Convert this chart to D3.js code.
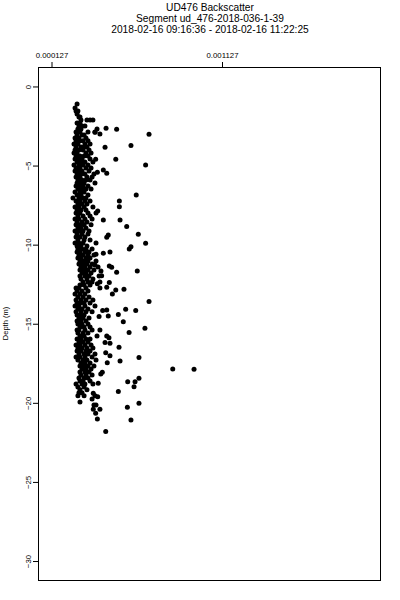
<!DOCTYPE html>
<html>
<head>
<meta charset="utf-8">
<script src="https://cdn.jsdelivr.net/npm/d3@7"></script>
<style>
  html, body { margin: 0; padding: 0; background: #fff; }
  svg { display: block; font-family: "Liberation Sans", Arial, sans-serif; }
</style>
</head>
<body>
<svg id="chart" width="400" height="600"></svg>
<script>
// ---- text ----
const titleLines = ["UD476 Backscatter", "Segment ud_476-2018-036-1-39", "2018-02-16 09:16:36 - 2018-02-16 11:22:25"];
const yAxisTitle = "Depth (m)";

// ---- axis ticks ----
const depthTicks = [0, -5, -10, -15, -20, -25, -30];
const backscatterTicks = [0.000127, 0.001127];
const backscatterTickLabels = ["0.000127", "0.001127"];

// ---- data (backscatter values in units of 1e-6) ----
const BS_UNIT = 1e-6;
// dense band of samples: one depth per row, several backscatter values per row
const clusterDepth = [
  -1.11,-1.36,-1.55,-1.74,-1.93,-2.12,-2.31,-2.50,-2.69,-2.88,
  -3.07,-3.26,-3.44,-3.63,-3.82,-4.01,-4.20,-4.39,-4.58,-4.77,
  -4.96,-5.15,-5.34,-5.53,-5.72,-5.91,-6.10,-6.29,-6.48,-6.67,
  -6.86,-7.05,-7.24,-7.43,-7.62,-7.81,-8.00,-8.19,-8.38,-8.57,
  -8.75,-8.94,-9.13,-9.32,-9.51,-9.70,-9.89,-10.08,-10.27,-10.46,
  -10.65,-10.84,-11.03,-11.22,-11.41,-11.60,-11.79,-11.98,-12.17,-12.36,
  -12.55,-12.74,-12.93,-13.12,-13.31,-13.50,-13.69,-13.88,-14.07,-14.25,
  -14.44,-14.63,-14.82,-15.01,-15.20,-15.39,-15.58,-15.77,-15.96,-16.15,
  -16.34,-16.53,-16.72,-16.91,-17.10,-17.29,-17.48,-17.67,-17.86,-18.05,
  -18.24,-18.43,-18.62,-18.81,-19.00,-19.18,-19.37,-19.56,-19.75,-19.94,
  -20.13
];
const clusterBackscatter = [
  [277],[265],[271,282],[277],[288,294],[300,335,353,370],[277,294],[288,306,323],[282,300,394],[271,294,341,382],
  [277,306,318],[265,288,329],[271,294,312,341],[259,282,323,353],[271,300,318,335],[265,288,312,347],[259,277,329,359],[271,294,318,341],[265,282,306,353],[277,300,323,370],
  [259,288,312,341],[271,294,329,359],[265,282,306,347],[277,300,323,376],[271,294,335,365],[282,306,329,353],[277,294,318,382],[271,288,312,341],[282,306,329,359],[265,294,318],
  [277,300,341],[253,288,312,329],[271,294,323,353],[282,306,335],[265,288,318,370],[277,300,329],[271,294,341,388],[282,312,353],[265,288,323,365],[277,306,335],
  [271,294,318,359],[282,300,329],[265,288,312,347],[277,306,341],[271,294,323],[282,318,353],[265,288,312,388],[277,300,335],[282,306,329,365],[277,294,323,347],
  [288,312,341,376],[282,300,329,353],[294,318,341,388],[288,312,335,365],[300,323,353,400],[294,318,341,376],[306,329,359],[294,323,347,406],[300,335,370],[312,341,365,411],
  [294,318,353],[271,288,329,411],[277,306,341],[265,294,323],[282,312,347],[271,300,329,370],[277,294,318,353],[265,288,323,382],[282,306,341],[271,300,329,365],
  [277,294,318],[288,312,347],[277,300,329],[282,306,341],[294,318,353],[277,288,323,365],[282,312,341],[294,318,394],[277,300,329,353],[288,312,341],
  [271,294,323,359],[282,306,335,370],[277,300,329,353],[288,318,341,382],[271,294,323,365],[282,312,335,388],[300,323,353],[294,318,341,376],[306,329,359],[294,323,347],
  [300,329,365],[288,318,341],[294,312,353],[271,306,323,370],[282,318],[294,335],[288,306],[282,318,382],[365],[294],
  [376,388]
];
// scattered samples
const scatterDepth = [
  -2.64,-2.71,-3.02,-3.00,-2.90,-3.84,-3.74,-4.60,-4.60,-4.96,
  -5.28,-5.49,-5.42,-6.86,-7.24,-7.60,-7.87,-8.44,-8.44,-8.86,
  -9.39,-9.53,-9.34,-9.91,-10.13,-10.27,-10.54,-10.46,-10.61,-11.28,
  -11.35,-11.43,-11.66,-11.96,-11.74,-11.66,-12.48,-12.40,-12.69,-12.86,
  -12.82,-13.12,-13.60,-14.08,-14.17,-14.13,-14.17,-14.51,-14.42,-14.87,
  -14.55,-15.28,-15.56,-15.39,-15.77,-15.88,-16.19,-16.23,-16.49,-16.83,
  -17.02,-17.14,-17.35,-17.46,-17.86,-17.88,-18.07,-18.17,-18.66,-18.66,
  -18.98,-18.44,-18.76,-19.29,-19.39,-19.61,-20.03,-20.28,-20.40,-20.40,
  -20.66,-21.02,-21.08,-21.82
];
const scatterBackscatter = [
  447,509,699,411,382,441,593,386,504,679,
  431,451,396,624,525,525,398,431,529,568,
  460,451,636,679,593,583,431,470,388,382,
  466,480,417,421,509,630,396,466,451,504,
  552,484,699,562,621,451,427,460,519,548,
  406,675,582,411,451,464,441,470,523,445,
  470,640,529,454,838,963,425,416,574,617,
  611,640,401,519,372,398,640,572,372,411,
  386,396,593,445
];

// ---- build points ----
const points = [];
clusterDepth.forEach((d, i) => clusterBackscatter[i].forEach(b => points.push({ depth: d, bs: b * BS_UNIT })));
scatterDepth.forEach((d, i) => points.push({ depth: d, bs: scatterBackscatter[i] * BS_UNIT }));

// ---- layout ----
const plot = { left: 38, right: 380, top: 67, bottom: 580 };
const svg = d3.select("#chart");

const x = d3.scaleLinear().domain([0.0000478, 0.0020537]).range([plot.left, plot.right]);
const y = d3.scaleLinear().domain([1.23, -31.2]).range([plot.top, plot.bottom]);

// title
svg.append("g").selectAll("text").data(titleLines).join("text")
  .attr("x", (plot.left + plot.right) / 2 + 1)
  .attr("y", (d, i) => 10.5 + i * 11.2)
  .attr("text-anchor", "middle")
  .attr("font-size", "10.2px")
  .attr("fill", "#000")
  .text(d => d);

// points
svg.append("g").selectAll("circle").data(points).join("circle")
  .attr("cx", d => x(d.bs))
  .attr("cy", d => y(d.depth))
  .attr("r", 2.5)
  .attr("fill", "#000");

// top axis
const topAxis = d3.axisTop(x).tickValues(backscatterTicks)
  .tickFormat((d, i) => backscatterTickLabels[i]).tickSize(5).tickPadding(4);
const gTop = svg.append("g").attr("transform", `translate(0,${plot.top})`).call(topAxis);
gTop.select(".domain").remove();
gTop.selectAll("text").attr("font-size", "7.8px").attr("font-family", "Liberation Sans, Arial, sans-serif").attr("fill", "#000");
gTop.selectAll("line").attr("stroke", "#000");

// left axis
const leftAxis = d3.axisLeft(y).tickValues(depthTicks).tickFormat(d3.format("d")).tickSize(5).tickPadding(7);
const gLeft = svg.append("g").attr("transform", `translate(${plot.left},0)`).call(leftAxis);
gLeft.select(".domain").remove();
gLeft.selectAll("line").attr("stroke", "#000");
gLeft.selectAll("text")
  .attr("font-size", "7.8px").attr("font-family", "Liberation Sans, Arial, sans-serif").attr("fill", "#000")
  .attr("text-anchor", "middle").attr("dy", null)
  .attr("transform", `translate(-10,0) rotate(-90)`)
  .attr("x", 0).attr("y", 2.8);

// box
svg.append("rect")
  .attr("x", plot.left + 0.5).attr("y", plot.top + 0.5)
  .attr("width", plot.right - plot.left).attr("height", plot.bottom - plot.top)
  .attr("fill", "none").attr("stroke", "#000").attr("stroke-width", 1);

// y axis title
svg.append("text")
  .attr("transform", `translate(8,${(plot.top + plot.bottom) / 2}) rotate(-90)`)
  .attr("text-anchor", "middle")
  .attr("font-size", "7.5px")
  .attr("fill", "#000")
  .text(yAxisTitle);
</script>
</body>
</html>
